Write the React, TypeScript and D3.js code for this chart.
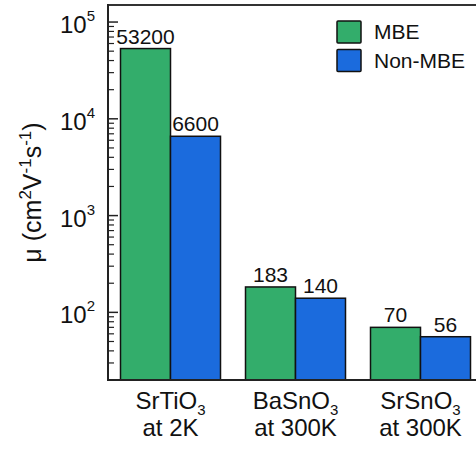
import React from "react";
import * as d3 from "d3";

const categories = ["SrTiO3|at 2K", "BaSnO3|at 300K", "SrSnO3|at 300K"];
const seriesNames = ["MBE", "Non-MBE"];
const mbeValues = [53200, 183, 70];
const nonMbeValues = [6600, 140, 56];
const majorTicks = [100, 1000, 10000, 100000];
const seriesColors = ["#33ad6b", "#1b6bdd"];

const W = 476;
const H = 459;
const margin = { left: 108, top: 5, bottom: 380, right: 483 };
const FONT = "'Liberation Sans', Arial, Helvetica, sans-serif";

export default function App() {
  const y = d3.scaleLog().domain([20, 150000]).range([margin.bottom, margin.top]);
  const x0 = d3
    .scaleBand<string>()
    .domain(categories)
    .range([margin.left, margin.right])
    .paddingInner(0.2)
    .paddingOuter(0.1);
  const x1 = d3.scaleBand<string>().domain(seriesNames).range([0, x0.bandwidth()]);

  const series = [mbeValues, nonMbeValues];

  // minor ticks: 2..9 within each decade inside the domain
  const minorTicks: number[] = [];
  for (let e = 1; e <= 5; e++) {
    for (let m = 2; m <= 9; m++) {
      const v = m * Math.pow(10, e);
      if (v >= 20 && v <= 150000) minorTicks.push(v);
    }
  }

  return (
    <svg
      width={W}
      height={H}
      style={{ position: "absolute", left: 0, top: 0, background: "#fff" }}
      fontFamily={FONT}
    >
      {/* bars */}
      {categories.map((c, ci) =>
        series.map((vals, si) => {
          const v = vals[ci];
          const bx = (x0(c) ?? 0) + (x1(seriesNames[si]) ?? 0);
          const by = y(v);
          return (
            <g key={c + si}>
              <rect
                x={bx}
                y={by}
                width={x1.bandwidth()}
                height={margin.bottom - by}
                fill={seriesColors[si]}
                stroke="#111"
                strokeWidth={1.5}
              />
              <text
                x={bx + x1.bandwidth() / 2}
                y={by - 5}
                textAnchor="middle"
                fontSize={21}
                fill="#111"
              >
                {v}
              </text>
            </g>
          );
        })
      )}

      {/* axes frame */}
      <line x1={margin.left} x2={W} y1={margin.top} y2={margin.top} stroke="#333" strokeWidth={2} />
      <line x1={margin.left} x2={W} y1={margin.bottom} y2={margin.bottom} stroke="#222" strokeWidth={2} />
      <line x1={margin.left} x2={margin.left} y1={margin.top - 1} y2={margin.bottom + 1} stroke="#222" strokeWidth={2} />

      {/* y ticks */}
      {minorTicks.map((t) => (
        <line key={"m" + t} x1={margin.left} x2={margin.left + 6} y1={y(t)} y2={y(t)} stroke="#222" strokeWidth={1.2} />
      ))}
      {majorTicks.map((t) => (
        <g key={"M" + t}>
          <line x1={margin.left} x2={margin.left + 10} y1={y(t)} y2={y(t)} stroke="#222" strokeWidth={1.5} />
          <text x={95} y={y(t) + 11} textAnchor="end" fontSize={24} fill="#111">
            10
            <tspan fontSize={15} dy={-12}>
              {Math.round(Math.log10(t))}
            </tspan>
          </text>
        </g>
      ))}

      {/* y axis title */}
      <text
        transform={`translate(41,${(margin.top + margin.bottom) / 2}) rotate(-90)`}
        textAnchor="middle"
        fontSize={25}
        fill="#111"
      >
        μ (cm
        <tspan fontSize={17} dy={-10}>2</tspan>
        <tspan dy={10}>V</tspan>
        <tspan fontSize={17} dy={-10}>-1</tspan>
        <tspan dy={10}>s</tspan>
        <tspan fontSize={17} dy={-10}>-1</tspan>
        <tspan dy={10}>)</tspan>
      </text>

      {/* category labels */}
      {categories.map((c) => {
        const [name, cond] = c.split("|");
        const cx = (x0(c) ?? 0) + x0.bandwidth() / 2;
        const base = name.slice(0, -1);
        const sub = name.slice(-1);
        return (
          <g key={"l" + c}>
            <text x={cx} y={409} textAnchor="middle" fontSize={24} fill="#111">
              {base}
              <tspan fontSize={15} dy={6}>{sub}</tspan>
            </text>
            <text x={cx} y={436} textAnchor="middle" fontSize={24} fill="#111">
              {cond}
            </text>
          </g>
        );
      })}

      {/* legend */}
      {seriesNames.map((s, i) => (
        <g key={"lg" + s}>
          <rect x={337} y={21 + i * 28.5} width={24} height={22} fill={seriesColors[i]} stroke="#111" strokeWidth={1.5} rx={1} />
          <text x={374} y={39 + i * 29} fontSize={21} fill="#111">
            {s}
          </text>
        </g>
      ))}
    </svg>
  );
}
